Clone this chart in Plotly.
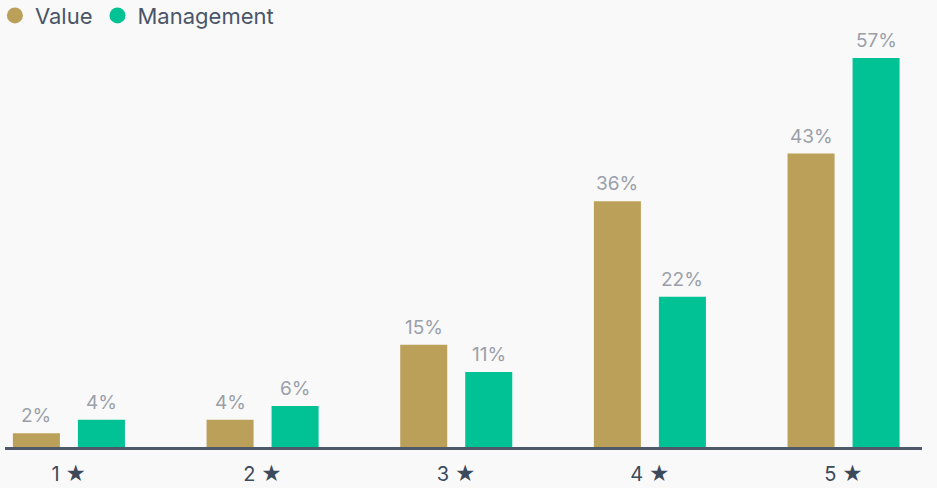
import plotly.graph_objects as go

categories = ["1 ★", "2 ★", "3 ★", "4 ★", "5 ★"]
value_pct = [2, 4, 15, 36, 43]
management_pct = [4, 6, 11, 22, 57]
series_names = ["Value", "Management"]
colors = ["#BBA05A", "#00C295"]

FONT = "Inter"
W, H = 937, 488
ml, mr, mt, mb = 5, 15, 0, 41

xpos = list(range(len(categories)))
fig = go.Figure()
for name, vals, col in zip(series_names, [value_pct, management_pct], colors):
    fig.add_trace(go.Bar(
        x=xpos, y=vals, name=name, marker=dict(color=col, line=dict(width=0)),
        showlegend=False, hoverinfo="skip",
    ))
    fig.add_trace(go.Scatter(
        x=[None], y=[None], mode="markers", name=name,
        marker=dict(symbol="circle", size=16, color=col),
    ))

# value labels above bars (offset of each series within a group)
group_off = [-0.168, 0.168]
for off, vals in zip(group_off, [value_pct, management_pct]):
    for xi, v in zip(xpos, vals):
        fig.add_annotation(
            x=xi + off, y=v, text=f"{v}%", showarrow=False,
            yanchor="bottom", xanchor="center", yshift=4,
            font=dict(family=FONT, size=19, color="#9aa0aa"),
        )

fig.update_layout(
    width=W, height=H,
    margin=dict(l=ml, r=mr, t=mt, b=mb, pad=0, autoexpand=False),
    paper_bgcolor="#f9f9f9", plot_bgcolor="#f9f9f9",
    barmode="group", bargap=0.3285, bargroupgap=0.277,
    font=dict(family=FONT, color="#4a5568"),
    legend=dict(
        orientation="h", x=-0.011, xanchor="left",
        y=1.012, yanchor="top",
        font=dict(family=FONT, size=22, color="#4a5568"),
        bgcolor="rgba(0,0,0,0)", itemsizing="trace",
        itemwidth=30, tracegroupgap=0,
    ),
    showlegend=True,
)
fig.update_xaxes(
    range=[-0.33, 4.405], tickmode="array", tickvals=xpos, ticktext=categories,
    showgrid=False, zeroline=False, showline=True, linecolor="#4e5869", linewidth=2.5,
    ticks="", ticklabelstandoff=7,
    tickfont=dict(family=FONT, size=20, color="#3d4a5c"), fixedrange=True,
)
fig.update_yaxes(
    range=[0, 65.5], showgrid=False, zeroline=False, showticklabels=False,
    showline=False, fixedrange=True,
)
fig.write_html(
    "out.html",
    config={"displayModeBar": False},
    post_script="document.body.style.margin='0';document.body.style.overflow='hidden';",
)
